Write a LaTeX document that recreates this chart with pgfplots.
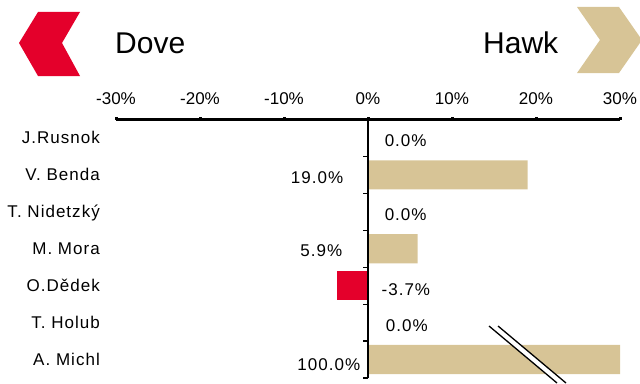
\documentclass[border=0pt]{standalone}
\usepackage{pgfplots}
\pgfplotsset{compat=1.18}
\usepackage{fontspec}
\setmainfont{Liberation Sans}
\newfontfamily\lsfont[LetterSpace=6]{Liberation Sans}
\definecolor{hawk}{RGB}{215,196,150}
\definecolor{dove}{RGB}{228,0,43}
\newcommand{\lblfont}{\fontsize{17bp}{20bp}\selectfont}
\newcommand{\spfont}{\lsfont\fontsize{17bp}{20bp}\selectfont}
\begin{document}
\begin{tikzpicture}[x=1bp,y=1bp]
\path[use as bounding box] (0,0) rectangle (640,383);
\clip (0,0) rectangle (640,383);
\fill[dove] (19,340)--(38,371)--(80,371)--(62,340)--(80,307)--(38,307)--cycle;
\fill[hawk] (577,376)--(619,376)--(642,343)--(619,310)--(577,310)--(600,343)--cycle;
\node[anchor=base west, inner sep=0pt, font=\fontsize{30bp}{36bp}\selectfont] at (115,330) {Dove};
\node[anchor=base west, inner sep=0pt, font=\fontsize{30bp}{36bp}\selectfont] at (483,330) {Hawk};
\begin{axis}[
  at={(116bp,5bp)}, anchor=south west,
  scale only axis, width=504bp, height=258.5bp,
  xmin=-30, xmax=30, ymin=-0.5, ymax=6.5, y dir=reverse,
  axis x line*=top, axis y line*=left,
  x axis line style={line width=3.5bp},
  y axis line style={draw=none},
  xtick={-30,-20,...,30},
  xticklabels={-30\%,-20\%,-10\%,0\%,10\%,20\%,30\%},
  tick align=outside,
  major tick length=2.5bp,
  xtick style={line width=3bp, black},
  ytick={0,...,6},
  yticklabels={J.Rusnok,V. Benda,T. Nidetzký,M. Mora,O.Dědek,T. Holub,A. Michl},
  ytick style={draw=none},
  xticklabel style={font=\lblfont, anchor=base, inner sep=0pt, yshift=13bp},
  yticklabel style={font=\spfont, anchor=base east, inner sep=0pt, xshift=-13.5bp, yshift=-6bp},
  clip=true,
]
\addplot[xbar, bar width=0.79, bar shift=0pt, fill=hawk, draw=none] coordinates {(19,1) (5.9,3) (100,6)};
\addplot[xbar, bar width=0.79, bar shift=0pt, fill=dove, draw=none] coordinates {(-3.7,4)};
\draw[line width=1.2bp] (axis cs:0,-0.5) -- (axis cs:0,6.5);
\pgfplotsinvokeforeach{0.5,1.5,2.5,3.5,4.5,5.5,6.5}{
  \draw[line width=1.2bp] (axis cs:0,#1) -- ++(-5bp,0bp);
}
\addplot[only marks, mark=none, nodes near coords, point meta=explicit symbolic,
  every node near coord/.append style={anchor=base east, inner sep=0pt, font=\spfont}]
  table[meta=label] {
x y label
-2.92 1.238 19.0\%
-3.04 3.20 5.9\%
-0.90 6.30 100.0\%
};
\addplot[only marks, mark=none, nodes near coords, point meta=explicit symbolic,
  every node near coord/.append style={anchor=base west, inner sep=0pt, font=\spfont}]
  table[meta=label] {
x y label
1.97 0.237 0.0\%
1.97 2.227 0.0\%
1.60 4.258 -3.7\%
2.10 5.23 0.0\%
};
\end{axis}
\fill[white] (489,57)--(498,57)--(566,0)--(557,0)--cycle;
\draw[line width=1.3bp] (489,57)--(557,0);
\draw[line width=1.3bp] (498,57)--(566,0);
\end{tikzpicture}
\end{document}
